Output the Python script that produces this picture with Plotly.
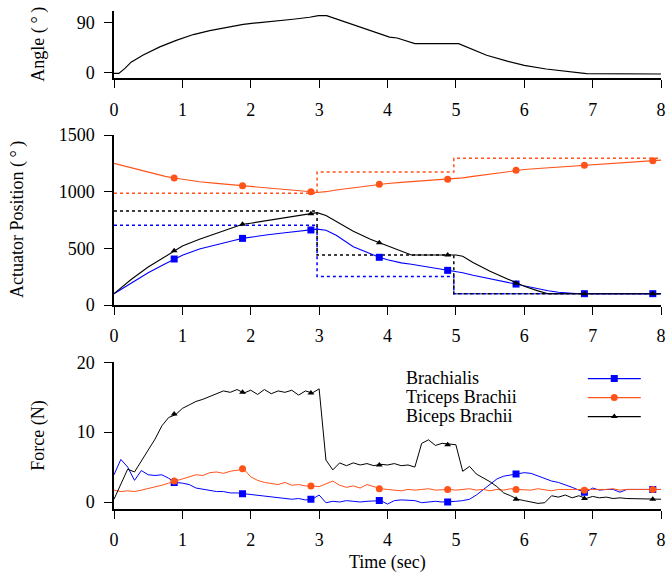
import numpy as np
import plotly.graph_objects as go

# ---------------- data ----------------
# Top panel: joint angle (deg)
angle_t = [0, 0.07, 0.16, 0.25, 0.42, 0.67, 0.91, 1.16, 1.4, 1.64, 1.89, 2.13, 2.38, 2.62,
           2.86, 2.99, 3.11, 3.2, 3.45, 3.74, 4.03, 4.14, 4.4, 5.04, 5.25, 5.45, 5.75, 6.0,
           6.32, 6.62, 6.91, 8.0]
angle_v = [-1.2, -1.2, 7.6, 18.8, 31, 46, 57.6, 68, 75, 81, 86, 89.4, 91.8, 95.3,
           98.8, 101.8, 101.8, 98, 87.6, 74.7, 63.5, 61.8, 51.8, 51.8, 41, 31, 20.6, 12.9,
           6.5, 1.8, -1.8, -2.4]

# Middle panel: actuator positions (deg)
pos_t = [0, 0.25, 0.5, 0.75, 0.88, 1.0, 1.25, 1.5, 1.75, 1.88, 2.0, 2.25, 2.5, 2.75, 2.88,
         2.97, 3.1, 3.25, 3.5, 3.75, 3.88, 4.0, 4.2, 4.35, 4.5, 4.75, 4.88, 5.0, 5.1, 5.25,
         5.5, 5.75, 5.88, 6.0, 6.2, 6.35, 6.5, 6.75, 7.0, 7.5, 8.0]
brachialis_pos = [100, 195, 285, 365, 406, 440, 495, 535, 570, 588, 600, 620, 638, 655, 662,
                  670, 660, 615, 515, 450, 421, 400, 372, 360, 345, 320, 306, 295, 285, 262,
                  230, 200, 185, 170, 145, 126, 113, 102, 100, 100, 100]
triceps_pos = [1250, 1210, 1172, 1135, 1120, 1108, 1088, 1073, 1060, 1053, 1048, 1036, 1024,
               1008, 1000, 993, 1000, 1015, 1035, 1055, 1065, 1072, 1082, 1088, 1095, 1103,
               1109, 1115, 1122, 1135, 1155, 1178, 1188, 1195, 1205, 1211, 1218, 1228, 1238,
               1257, 1278]
biceps_pos = [100, 225, 335, 430, 479, 520, 580, 635, 685, 712, 722, 745, 768, 795, 806,
              815, 790, 740, 650, 580, 550, 520, 470, 441, 441, 441, 441, 441, 430, 375,
              297, 229, 191, 165, 125, 100, 100, 100, 100, 100, 100]

# Setpoints (dotted step lines)
setpoint_t = [0, 2.97, 4.97, 8.0]
brachialis_set = [703, 252, 100, 100]
triceps_set = [985, 1173, 1294, 1294]
biceps_set = [829, 441, 100, 100]

# Marker positions (every second, offset)
marker_t = [0.88, 1.88, 2.88, 3.88, 4.88, 5.88, 6.88, 7.88]
brachialis_pos_m = [406, 588, 662, 421, 306, 185, 100, 100]
triceps_pos_m = [1120, 1053, 1000, 1065, 1109, 1188, 1233, 1273]
biceps_pos_m = [479, 712, 806, 550, 441, 191, 100, 100]

# Bottom panel: muscle forces (N), sampled every 0.1 s
force_t = np.round(np.arange(0, 8.05, 0.1), 2)
biceps_force = [0.4, 2.6, 4.7, 4.3, 5.9, 7.6, 9.0, 10.9, 12.1, 12.5,
                13.4, 13.9, 14.4, 14.7, 15.1, 15.5, 15.9, 15.7, 16.1, 15.6,
                16.0, 15.4, 16.1, 15.5, 15.9, 15.7, 16.0, 15.3, 15.9, 15.6,
                16.2, 6.0, 4.6, 5.6, 5.2, 5.6, 5.3, 5.5, 5.2, 5.4,
                5.3, 5.5, 5.2, 5.3, 5.0, 8.4, 8.9, 8.1, 8.4, 8.3,
                8.2, 4.4, 5.1, 4.0, 3.5, 2.9, 2.2, 1.3, 0.9, 0.4,
                0.2, 0.0, -0.2, -0.1, 0.9, 0.7, 1.0, 0.6, 0.9, 0.5,
                0.8, 0.6, 0.7, 0.5, 0.6, 0.5, 0.5, 0.4, 0.5, 0.4,
                0.4]
brachialis_force = [3.9, 6.1, 5.0, 3.1, 4.5, 3.9, 3.8, 3.9, 3.4, 2.8,
                    2.7, 2.5, 2.0, 1.8, 1.6, 1.5, 1.5, 1.3, 1.3, 1.2,
                    1.1, 1.0, 0.9, 0.8, 0.6, 0.6, 0.4, 0.5, 0.3, 0.4,
                    1.0, -0.1, 0.1, 0.0, 0.2, 0.1, 0.0, 0.1, 0.2, 0.2,
                    -0.3, 0.2, 0.3, 0.2, 0.2, -0.1, 0.0, 0.1, 0.0, 0.0,
                    0.1, 0.2, 0.4, 1.0, 1.8, 2.6, 3.3, 3.7, 3.9, 4.0,
                    4.2, 4.1, 3.7, 3.4, 3.0, 2.8, 2.5, 2.1, 1.7, 1.4,
                    2.0, 1.7, 1.8, 1.8, 1.4, 1.8, 1.8, 1.8, 1.9, 1.8,
                    1.8]
triceps_force = [1.7, 1.5, 1.6, 1.5, 1.7, 1.9, 2.1, 2.4, 2.7, 3.0,
                 3.3, 3.6, 3.9, 3.8, 4.2, 4.3, 4.1, 4.4, 4.6, 4.7,
                 3.6, 3.1, 2.8, 2.7, 2.5, 2.8, 2.4, 2.5, 2.3, 2.3,
                 2.2, 2.6, 3.0, 2.4, 2.1, 2.3, 2.0, 2.5, 2.2, 1.9,
                 1.8, 1.7, 1.6, 1.8, 1.7, 1.8, 1.9, 1.7, 1.8, 1.8,
                 1.7, 1.8, 1.9, 1.7, 1.8, 1.6, 1.8, 1.7, 1.9, 1.8,
                 1.8, 1.7, 1.9, 1.8, 1.6, 1.8, 1.8, 1.7, 1.8, 1.8,
                 1.7, 1.8, 1.8, 1.9, 1.7, 1.8, 1.8, 1.8, 1.8, 1.8,
                 1.8]
brachialis_force_m = [2.8, 1.2, 0.4, 0.2, 0.0, 4.0, 1.4, 1.8]
triceps_force_m = [3.0, 4.75, 2.3, 1.9, 1.8, 1.8, 1.7, 1.8]
biceps_force_m = [12.6, 15.7, 15.6, 5.3, 8.2, 0.4, 0.5, 0.4]

series_names = ["Brachialis", "Triceps Brachii", "Biceps Brachii"]
x_ticks = [0, 1, 2, 3, 4, 5, 6, 7, 8]

# ---------------- styles ----------------
BLUE = "#0000ff"
ORANGE = "#ff5319"
BLACK = "#000000"
colors = [BLUE, ORANGE, BLACK]
symbols = ["square", "circle", "triangle-up"]
msizes = [7, 7, 6]
FONT = "Liberation Serif, Times New Roman, serif"

fig = go.Figure()

# Top: angle
fig.add_trace(go.Scatter(x=angle_t, y=angle_v, mode="lines", xaxis="x", yaxis="y",
                         line=dict(color=BLACK, width=1.2), showlegend=False))

# Middle: setpoints
for t_vals, color in zip([brachialis_set, triceps_set, biceps_set], colors):
    fig.add_trace(go.Scatter(x=setpoint_t, y=t_vals, mode="lines", xaxis="x2", yaxis="y2",
                             line=dict(color=color, width=1.5, dash="3px,3px", shape="hv"),
                             showlegend=False))
# Middle: positions
for vals, mvals, color, sym, ms in zip([brachialis_pos, triceps_pos, biceps_pos],
                                       [brachialis_pos_m, triceps_pos_m, biceps_pos_m],
                                       colors, symbols, msizes):
    fig.add_trace(go.Scatter(x=pos_t, y=vals, mode="lines", xaxis="x2", yaxis="y2",
                             line=dict(color=color, width=1.1), showlegend=False))
    fig.add_trace(go.Scatter(x=marker_t, y=mvals, mode="markers", xaxis="x2", yaxis="y2",
                             marker=dict(color=color, symbol=sym, size=ms), showlegend=False))

# Bottom: forces
for vals, mvals, color, sym, ms in zip([brachialis_force, triceps_force, biceps_force],
                                       [brachialis_force_m, triceps_force_m, biceps_force_m],
                                       colors, symbols, msizes):
    fig.add_trace(go.Scatter(x=force_t, y=vals, mode="lines", xaxis="x3", yaxis="y3",
                             line=dict(color=color, width=1.0), showlegend=False))
    fig.add_trace(go.Scatter(x=marker_t, y=mvals, mode="markers", xaxis="x3", yaxis="y3",
                             marker=dict(color=color, symbol=sym, size=ms), showlegend=False))

# Legend samples (text drawn as annotations on the left, like the original)
for name, color, sym, ms in zip(series_names, colors, symbols, msizes):
    fig.add_trace(go.Scatter(x=[None], y=[None], mode="lines+markers", xaxis="x3", yaxis="y3",
                             name="", legendgroup=name,
                             line=dict(color=color, width=1.2),
                             marker=dict(color=color, symbol=sym, size=ms)))

axis_common = dict(showline=True, linecolor=BLACK, linewidth=1.5, ticks="outside",
                   ticklen=8, tickwidth=1.3, tickcolor=BLACK, showgrid=False, zeroline=False,
                   mirror=False, ticklabelstandoff=6, automargin=False)
xcommon = dict(axis_common, range=[0, 8], tickvals=x_ticks, domain=[0, 1])

fig.update_layout(
    width=669, height=575, autosize=False,
    margin=dict(l=114, r=8, t=11, b=66, autoexpand=False),
    paper_bgcolor="white", plot_bgcolor="white",
    font=dict(family=FONT, size=18, color=BLACK),
    xaxis=dict(xcommon, anchor="y"),
    xaxis2=dict(xcommon, anchor="y2"),
    xaxis3=dict(xcommon, anchor="y3"),
    yaxis=dict(axis_common, anchor="x", domain=[0.8649, 1.0], range=[-10, 110], tickvals=[0, 90]),
    yaxis2=dict(axis_common, anchor="x2", domain=[0.4096, 0.7510], range=[0, 1500],
                tickvals=[0, 500, 1000, 1500]),
    yaxis3=dict(axis_common, anchor="x3", domain=[0.0, 0.2946], range=[-1, 20],
                tickvals=[0, 10, 20]),
    showlegend=True,
    legend=dict(x=0.857, y=0.291, xanchor="left", yanchor="top", bgcolor="rgba(0,0,0,0)",
                font=dict(size=12), itemwidth=53, tracegroupgap=0),
)

ann = []
# axis titles
ann.append(dict(text="Angle (\u2009\u00b0\u2009)", x=-0.1371, y=(0.8649 + 1.0) / 2, xref="paper",
                yref="paper", textangle=-90, showarrow=False, xanchor="center", yanchor="middle"))
ann.append(dict(text="Actuator Position (\u2009\u00b0\u2009)", x=-0.1773, y=(0.4096 + 0.7510) / 2,
                xref="paper", yref="paper", textangle=-90, showarrow=False,
                xanchor="center", yanchor="middle"))
ann.append(dict(text="Force (N)", x=-0.1371, y=0.2946 / 2, xref="paper", yref="paper",
                textangle=-90, showarrow=False, xanchor="center", yanchor="middle"))
ann.append(dict(text="Time (sec)", x=0.5, y=-0.1084, xref="paper", yref="paper",
                showarrow=False, xanchor="center", yanchor="middle"))
# legend labels
for name, yy in zip(series_names, [0.263, 0.2249, 0.1867]):
    ann.append(dict(text=name, x=0.530, y=yy, xref="paper", yref="paper", showarrow=False,
                    xanchor="left", yanchor="middle"))
fig.update_layout(annotations=ann)

fig.write_html(
    "out.html",
    config={"displayModeBar": False},
    post_script="document.body.style.margin='0';document.body.style.padding='0';"
                "document.body.style.overflow='hidden';",
)
